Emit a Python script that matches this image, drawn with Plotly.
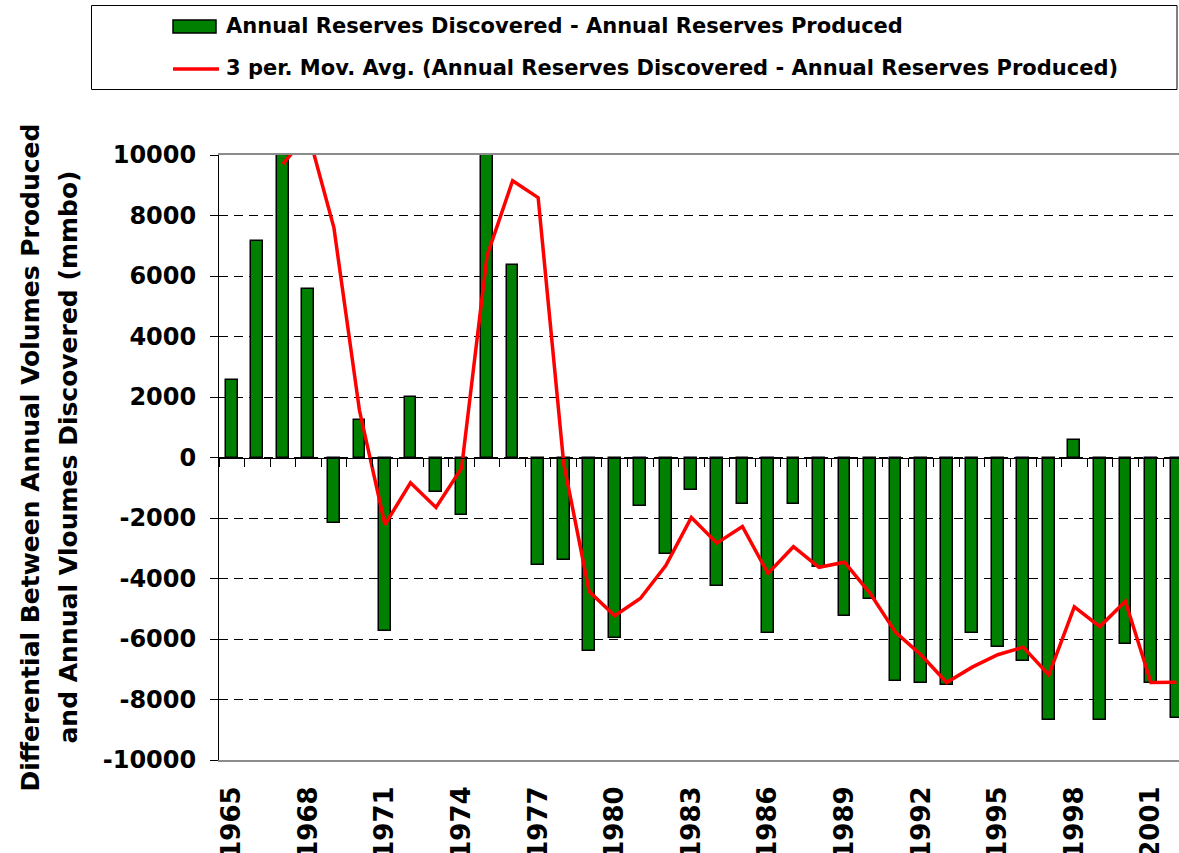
import plotly.graph_objects as go

# Annual reserves discovered minus annual reserves produced (mmbo), 1965-2002
years = list(range(1965, 2003))
differential = [
    2550, 7170, 19390, 5570, -2150, 1250, -5730, 1990, -1150, -1900,
    22970, 6370, -3560, -3380, -6400, -5970, -1600, -3190, -1090, -4250,
    -1530, -5790, -1550, -3620, -5240, -4690, -7380, -7460, -7520, -5790,
    -6280, -6720, -8680, 570, -8680, -6170, -7460, -8620,
]

# 3-period moving average, first value lands on the third year
ma_years = list(range(1967, 2003))
moving_avg = [
    9700, 10710, 7600, 1560, -2220, -835, -1650, -350, 6670, 9150,
    8590, -190, -4430, -5230, -4660, -3570, -1980, -2830, -2280, -3830,
    -2950, -3630, -3460, -4490, -5780, -6530, -7440, -6930, -6520, -6270,
    -7190, -4940, -5590, -4750, -7440, -7430,
]

y_ticks = list(range(-10000, 10001, 2000))
y_tick_text = [str(v) for v in y_ticks]
x_label_years = list(range(1965, 2002, 3))
x_label_text = [str(v) for v in x_label_years]

bar_name = "Annual Reserves Discovered - Annual Reserves Produced"
line_name = "3 per. Mov. Avg. (Annual Reserves Discovered - Annual Reserves Produced)"
title_line1 = "Differential Between Annual Volumes Produced"
title_line2 = "and Annual Vloumes Discovered (mmbo)"

FONT = "DejaVu Sans"
W, H = 1179, 853
ML, MR, MT, MB = 219, 0, 155, 93
PW, PH = W - ML - MR, H - MT - MB
x_range = [1964.5, 2002.1]


def px_x(p):
    return (p - ML) / PW


def px_y(p):
    return (H - MB - p) / PH


fig = go.Figure()

fig.add_trace(go.Bar(
    x=years, y=differential, name=bar_name, width=0.46,
    marker=dict(color="#008000", line=dict(color="#000000", width=1.5)),
    showlegend=False,
))
fig.add_trace(go.Scatter(
    x=ma_years, y=moving_avg, name=line_name, mode="lines",
    line=dict(color="#FF0000", width=3.5),
    showlegend=False,
))
# carrier for the category-boundary axis that sits on the zero line
fig.add_trace(go.Scatter(
    x=[years[0]], y=[0], xaxis="x2", mode="markers",
    marker=dict(opacity=0), showlegend=False, hoverinfo="skip",
))

boundaries = [y - 0.5 for y in years]

fig.update_layout(
    width=W, height=H,
    margin=dict(l=ML, r=MR, t=MT, b=MB, autoexpand=False),
    paper_bgcolor="white", plot_bgcolor="white",
    font=dict(family=FONT, color="black"),
    bargap=0,
    xaxis=dict(
        range=x_range, tickmode="array", tickvals=x_label_years, ticktext=x_label_text,
        tickangle=-90, ticks="", ticklabelstandoff=14,
        tickfont=dict(family=FONT, size=26, weight="bold", color="black"),
        showgrid=False, zeroline=False,
        showline=True, linecolor="#8c8c8c", linewidth=2, mirror=True,
        automargin=False,
    ),
    xaxis2=dict(
        range=x_range, overlaying="x", anchor="free", position=0.5,
        tickmode="array", tickvals=boundaries, ticks="outside", ticklen=8,
        tickcolor="#000000", tickwidth=1, showticklabels=False,
        showline=True, linecolor="#000000", linewidth=1,
        showgrid=False, zeroline=False, automargin=False,
    ),
    yaxis=dict(
        range=[-10000, 10000], tickmode="array", tickvals=y_ticks, ticktext=y_tick_text,
        ticks="outside", ticklen=8, tickcolor="#000000", tickwidth=1,
        ticklabelstandoff=9,
        tickfont=dict(family=FONT, size=24, weight="bold", color="black"),
        showline=True, linecolor="#000000", linewidth=1,
        showgrid=True, gridcolor="#000000", gridwidth=1, griddash="9px,6px",
        zeroline=False, automargin=False,
    ),
)

# axis title as two rotated lines
for text, cx in ((title_line1, 30), (title_line2, 68)):
    fig.add_annotation(
        text=text, xref="paper", yref="paper", x=px_x(cx), y=0.5,
        xanchor="center", yanchor="middle", textangle=-90, showarrow=False,
        font=dict(family=FONT, size=25, weight="bold", color="black"),
    )

# legend box
fig.add_shape(type="rect", xref="paper", yref="paper",
              x0=px_x(91.5), x1=px_x(1177), y0=px_y(89.5), y1=px_y(5.5),
              line=dict(color="#000000", width=1), fillcolor="white", layer="above")
fig.add_shape(type="rect", xref="paper", yref="paper",
              x0=px_x(173), x1=px_x(216), y0=px_y(33), y1=px_y(20),
              line=dict(color="#000000", width=1.5), fillcolor="#008000", layer="above")
fig.add_shape(type="line", xref="paper", yref="paper",
              x0=px_x(173), x1=px_x(219), y0=px_y(69), y1=px_y(69),
              line=dict(color="#FF0000", width=3.5), layer="above")
for text, cy in ((bar_name, 26), (line_name, 68)):
    fig.add_annotation(
        text=text, xref="paper", yref="paper", x=px_x(224), y=px_y(cy),
        xanchor="left", yanchor="middle", showarrow=False,
        font=dict(family=FONT, size=21, weight="bold", color="black"),
    )

fig.write_html("out.html")
